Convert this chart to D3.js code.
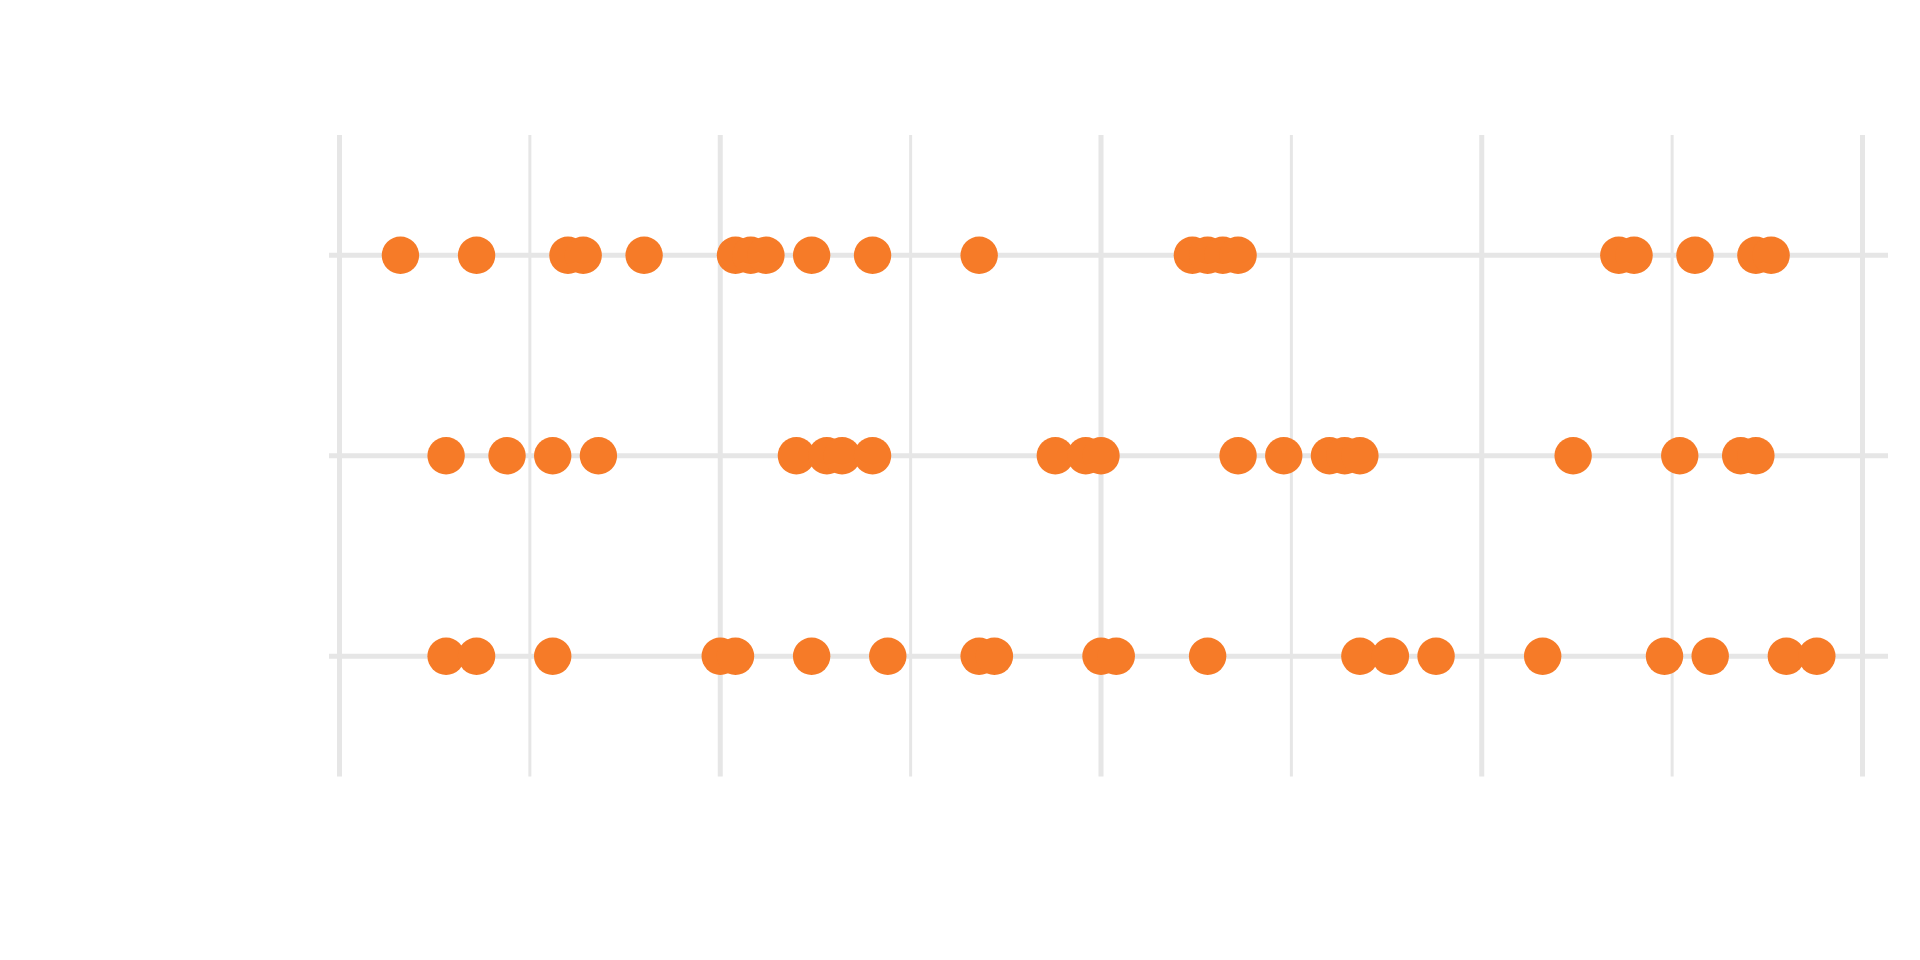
<!DOCTYPE html>
<html>
<head>
<meta charset="utf-8">
<script src="https://cdn.jsdelivr.net/npm/d3@7"></script>
<style>
  html, body { margin: 0; padding: 0; background: #ffffff; }
  svg { display: block; }
</style>
</head>
<body>
<svg id="chart" width="1920" height="960"></svg>
<script>
// ---- data ----
const categories = ["A", "B", "C"];
const seriesA = [0.32, 0.72, 1.20, 1.28, 1.60, 2.08, 2.16, 2.24, 2.48, 2.80, 3.36, 4.48, 4.56, 4.64, 4.72, 6.72, 6.80, 7.12, 7.44, 7.52];
const seriesB = [0.56, 0.88, 1.12, 1.36, 2.40, 2.56, 2.64, 2.80, 3.76, 3.92, 4.00, 4.72, 4.96, 5.20, 5.28, 5.36, 6.48, 7.04, 7.36, 7.44];
const seriesC = [0.56, 0.72, 1.12, 2.00, 2.08, 2.48, 2.88, 3.36, 3.44, 4.00, 4.08, 4.56, 5.36, 5.52, 5.76, 6.32, 6.96, 7.20, 7.60, 7.76];
const xTicks = [0, 1, 2, 3, 4, 5, 6, 7, 8];
const xDomain = [0, 8];

const seriesList = [seriesA, seriesB, seriesC];
const points = [];
categories.forEach((c, i) => seriesList[i].forEach(v => points.push({ cat: c, value: v })));

// ---- layout ----
const svg = d3.select("#chart");
const x = d3.scaleLinear().domain(xDomain).range([339.5, 1862.5]);
const y = d3.scalePoint().domain(categories).range([135, 776.5]).padding(0.6);

const gridColor = "#e6e6e6";

// vertical gridlines (x axis ticks)
const xAxis = d3.axisBottom(x).tickValues(xTicks).tickSize(776.5 - 135).tickFormat("");
const gx = svg.append("g").attr("transform", "translate(0,135)").call(xAxis);
gx.select(".domain").remove();
gx.selectAll(".tick").attr("transform", d => `translate(${x(d)},0)`);
gx.selectAll(".tick line")
  .attr("stroke", gridColor)
  .attr("stroke-width", d => (d % 2 === 0 ? 5 : 3));

// horizontal gridlines (y axis ticks)
const yAxis = d3.axisRight(y).tickSize(1888 - 329).tickFormat("");
const gy = svg.append("g").attr("transform", "translate(329,0)").call(yAxis);
gy.select(".domain").remove();
gy.selectAll(".tick").attr("transform", d => `translate(0,${y(d)})`);
gy.selectAll(".tick line")
  .attr("stroke", gridColor)
  .attr("stroke-width", 5);

// points
svg.append("g")
  .selectAll("circle")
  .data(points)
  .join("circle")
  .attr("cx", d => x(d.value))
  .attr("cy", d => y(d.cat))
  .attr("r", 18.7)
  .attr("fill", "#f67b28");
</script>
</body>
</html>
